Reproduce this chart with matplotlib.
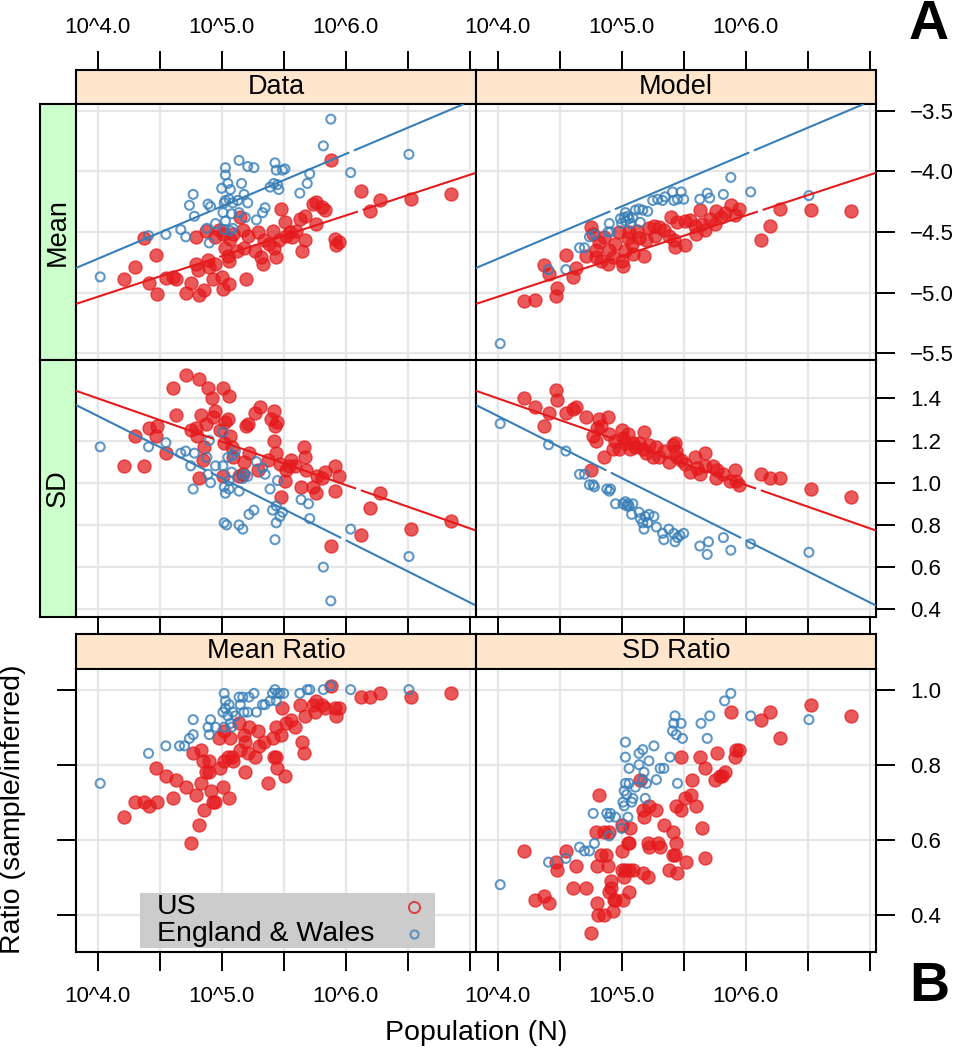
import matplotlib
matplotlib.use('Agg')
import matplotlib.pyplot as plt
from matplotlib.patches import Rectangle
import numpy as np

plt.rcParams['font.family'] = ['Liberation Sans', 'DejaVu Sans']

RED = '#E41A1C'
BLUE = '#377EB8'
GRID = '#E6E6E6'
PEACH = '#FFE5CC'
GREEN = '#CCFFCC'

#-- DATA --  (x = log10 of population)

x_ticks = [4.0, 4.5, 5.0, 5.5, 6.0, 6.5, 7.0]
x_tick_labels = ['10^4.0', '', '10^5.0', '', '10^6.0', '', '']

mean_ticks = [-3.5, -4.0, -4.5, -5.0, -5.5]
mean_tick_labels = ['\u22123.5', '\u22124.0', '\u22124.5', '\u22125.0', '\u22125.5']
sd_ticks = [1.4, 1.2, 1.0, 0.8, 0.6, 0.4]
sd_tick_labels = ['1.4', '1.2', '1.0', '0.8', '0.6', '0.4']
ratio_ticks = [1.0, 0.8, 0.6, 0.4]
ratio_tick_labels = ['1.0', '0.8', '0.6', '0.4']

# fitted lines (intercept, slope) against log10 N
mean_fit_us = (-6.374, 0.335)
mean_fit_ew = (-6.449, 0.432)
sd_fit_us = (2.221, -0.2053)
sd_fit_ew = (2.495, -0.2946)

data_mean_us = [(4.21, -4.89), (4.30, -4.79), (4.37, -4.55), (4.41, -4.92), (4.47, -4.69), (4.48, -5.01),
                (4.55, -4.88), (4.61, -4.87), (4.63, -4.89), (4.71, -5.00), (4.75, -4.92), (4.79, -4.54),
                (4.79, -4.76), (4.81, -4.81), (4.82, -5.02), (4.86, -4.98), (4.87, -4.49), (4.89, -4.73),
                (4.90, -4.79), (4.93, -4.89), (4.95, -4.76), (4.98, -4.48), (5.01, -4.52), (5.01, -4.97),
                (5.03, -4.63), (5.05, -4.70), (5.06, -4.74), (5.06, -4.93), (5.00, -4.87), (5.07, -4.56),
                (5.15, -4.38), (5.17, -4.48), (5.18, -4.63), (5.21, -4.53), (5.20, -4.89), (5.27, -4.66),
                (5.29, -4.50), (5.32, -4.71), (5.34, -4.57), (5.41, -4.49), (5.42, -4.63), (5.44, -4.71),
                (5.46, -4.57), (5.48, -4.31), (5.51, -4.42), (5.55, -4.50), (5.57, -4.54), (5.60, -4.49),
                (5.63, -4.39), (5.67, -4.37), (5.65, -4.66), (5.67, -4.57), (5.76, -4.43), (5.74, -4.27),
                (5.76, -4.25), (5.81, -4.29), (5.83, -4.32), (5.88, -3.91), (5.91, -4.56), (5.92, -4.61),
                (5.95, -4.58), (6.12, -4.16), (6.20, -4.33), (6.28, -4.24), (6.53, -4.23), (6.85, -4.19),
                (5.38, -4.60), (5.09, -4.52), (5.12, -4.66), (4.95, -4.54), (5.33, -4.76), (5.52, -4.53)]

data_mean_ew = [(4.02, -4.87), (4.41, -4.53), (4.55, -4.52), (4.67, -4.48), (4.71, -4.54), (4.77, -4.19),
                (4.74, -4.28), (4.78, -4.37), (4.89, -4.27), (4.91, -4.29), (4.88, -4.47), (4.90, -4.59),
                (4.95, -4.43), (5.00, -4.14), (5.03, -3.97), (5.03, -4.03), (5.05, -4.10), (5.07, -4.15),
                (5.02, -4.26), (5.03, -4.24), (5.06, -4.23), (5.09, -4.26), (5.01, -4.34), (5.08, -4.35),
                (5.03, -4.41), (5.07, -4.49), (5.14, -3.91), (5.21, -3.96), (5.26, -3.97), (5.16, -4.10),
                (5.18, -4.19), (5.13, -4.24), (5.21, -4.26), (5.14, -4.34), (5.19, -4.38), (5.28, -4.40),
                (5.33, -4.34), (5.35, -4.30), (5.39, -4.13), (5.43, -3.93), (5.44, -3.99), (5.45, -4.11),
                (5.46, -4.15), (5.49, -3.99), (5.51, -3.98), (5.42, -4.10), (5.63, -4.18), (5.69, -4.10),
                (5.71, -4.02), (5.82, -3.79), (5.88, -3.57), (6.04, -4.01), (6.51, -3.86), (5.02, -4.48),
                (5.09, -4.47)]

model_mean_us = [(4.21, -5.07), (4.30, -5.06), (4.37, -4.77), (4.41, -4.85), (4.47, -5.03), (4.48, -4.96),
                 (4.55, -4.69), (4.61, -4.87), (4.63, -4.80), (4.71, -4.70), (4.75, -4.46), (4.79, -4.65),
                 (4.79, -4.71), (4.82, -4.58), (4.83, -4.74), (4.86, -4.54), (4.89, -4.76), (4.90, -4.65),
                 (4.93, -4.71), (4.95, -4.60), (5.00, -4.74), (5.01, -4.78), (5.03, -4.66), (5.05, -4.55),
                 (5.06, -4.50), (5.08, -4.60), (5.12, -4.49), (5.14, -4.55), (5.18, -4.70), (5.20, -4.57),
                 (5.22, -4.47), (5.26, -4.45), (5.30, -4.46), (5.34, -4.48), (5.38, -4.53), (5.40, -4.38),
                 (5.42, -4.57), (5.43, -4.62), (5.45, -4.42), (5.51, -4.61), (5.51, -4.41), (5.55, -4.40),
                 (5.59, -4.45), (5.63, -4.32), (5.65, -4.43), (5.67, -4.48), (5.71, -4.39), (5.75, -4.43),
                 (5.76, -4.33), (5.80, -4.38), (5.83, -4.34), (5.88, -4.28), (5.91, -4.36), (5.95, -4.31),
                 (6.12, -4.57), (6.20, -4.45), (6.28, -4.31), (6.53, -4.32), (6.85, -4.33), (4.77, -4.52),
                 (4.98, -4.50), (5.09, -4.68), (5.27, -4.53), (5.60, -4.52)]

model_mean_ew = [(4.02, -5.42), (4.41, -4.81), (4.55, -4.81), (4.66, -4.63), (4.70, -4.63), (4.74, -4.54),
                 (4.78, -4.52), (4.89, -4.50), (4.90, -4.43), (4.91, -4.50), (5.00, -4.43), (5.02, -4.38),
                 (5.03, -4.34), (5.05, -4.37), (5.06, -4.39), (5.03, -4.41), (5.09, -4.38), (5.14, -4.31),
                 (5.15, -4.42), (5.17, -4.32), (5.21, -4.33), (5.25, -4.24), (5.29, -4.23), (5.33, -4.24),
                 (5.35, -4.21), (5.41, -4.17), (5.42, -4.24), (5.45, -4.23), (5.48, -4.17), (5.50, -4.23),
                 (5.63, -4.23), (5.69, -4.18), (5.71, -4.22), (5.82, -4.19), (5.88, -4.05), (6.04, -4.17),
                 (6.51, -4.20), (4.99, -4.39), (5.07, -4.43), (5.11, -4.32)]

data_sd_us = [(4.21, 1.08), (4.30, 1.22), (4.37, 1.08), (4.41, 1.26), (4.47, 1.22), (4.48, 1.27),
              (4.55, 1.14), (4.61, 1.45), (4.63, 1.32), (4.71, 1.51), (4.75, 1.25), (4.79, 1.26),
              (4.80, 1.22), (4.82, 1.49), (4.82, 1.02), (4.83, 1.32), (4.86, 1.17), (4.87, 1.28),
              (4.89, 1.45), (4.92, 1.40), (4.93, 1.31), (4.95, 1.34), (4.85, 1.11), (5.01, 1.45),
              (5.06, 1.41), (5.03, 1.29), (5.05, 1.30), (4.99, 1.25), (5.02, 1.19), (5.07, 1.22),
              (5.08, 1.17), (5.09, 1.12), (5.01, 1.03), (5.14, 1.03), (5.18, 1.10), (5.20, 1.27),
              (5.21, 1.28), (5.22, 1.14), (5.27, 1.33), (5.31, 1.36), (5.29, 1.06), (5.37, 1.11),
              (5.40, 1.30), (5.42, 1.20), (5.42, 1.34), (5.43, 1.27), (5.45, 1.29), (5.44, 1.14),
              (5.47, 1.09), (5.48, 0.93), (5.51, 1.01), (5.52, 1.06), (5.56, 1.11), (5.59, 1.08),
              (5.64, 0.98), (5.66, 1.17), (5.67, 1.12), (5.68, 1.06), (5.74, 0.98), (5.76, 0.95),
              (5.77, 1.03), (5.81, 1.02), (5.83, 1.05), (5.91, 1.08), (5.91, 0.96), (5.95, 1.03),
              (5.88, 0.70), (6.12, 0.75), (6.20, 0.88), (6.28, 0.95), (6.53, 0.78), (6.85, 0.82),
              (5.17, 1.04), (5.54, 1.08)]

data_sd_ew = [(4.02, 1.17), (4.41, 1.17), (4.55, 1.19), (4.67, 1.14), (4.71, 1.15), (4.75, 1.08),
              (4.77, 0.97), (4.78, 1.14), (4.88, 1.12), (4.90, 1.20), (4.89, 1.04), (4.91, 1.00),
              (4.95, 1.08), (5.01, 1.24), (5.01, 1.08), (5.02, 0.98), (5.03, 0.95), (5.02, 0.81),
              (5.04, 0.80), (5.06, 1.01), (5.06, 0.97), (5.05, 1.12), (5.09, 1.13), (5.11, 1.15),
              (5.14, 0.96), (5.14, 0.80), (5.17, 0.78), (5.18, 1.04), (5.21, 1.03), (5.22, 0.85),
              (5.26, 0.87), (5.28, 1.10), (5.33, 1.07), (5.35, 1.04), (5.39, 0.97), (5.41, 0.87),
              (5.43, 0.73), (5.44, 0.89), (5.44, 0.81), (5.45, 1.01), (5.47, 0.84), (5.49, 0.86),
              (5.64, 0.92), (5.70, 0.90), (5.71, 0.83), (5.82, 0.60), (5.88, 0.44), (6.04, 0.78),
              (6.51, 0.65), (5.08, 1.05), (5.17, 1.02)]

model_sd_us = [(4.21, 1.40), (4.30, 1.36), (4.37, 1.27), (4.41, 1.33), (4.47, 1.44), (4.48, 1.39),
               (4.55, 1.33), (4.61, 1.35), (4.63, 1.36), (4.71, 1.31), (4.75, 1.06), (4.79, 1.20),
               (4.80, 1.26), (4.82, 1.30), (4.83, 1.27), (4.86, 1.12), (4.89, 1.31), (4.90, 1.23),
               (4.93, 1.16), (4.95, 1.20), (5.00, 1.25), (5.01, 1.21), (5.03, 1.19), (5.05, 1.23),
               (5.07, 1.16), (5.09, 1.19), (5.14, 1.19), (5.17, 1.16), (5.18, 1.24), (5.20, 1.14),
               (5.22, 1.18), (5.28, 1.17), (5.30, 1.12), (5.34, 1.15), (5.38, 1.10), (5.41, 1.18),
               (5.43, 1.19), (5.45, 1.12), (5.48, 1.11), (5.51, 1.09), (5.55, 1.05), (5.59, 1.12),
               (5.61, 1.07), (5.63, 1.04), (5.67, 1.14), (5.67, 1.08), (5.74, 1.08), (5.76, 1.02),
               (5.77, 1.06), (5.82, 1.04), (5.87, 1.01), (5.91, 1.06), (5.92, 1.01), (5.95, 0.99),
               (6.12, 1.04), (6.20, 1.02), (6.28, 1.02), (6.53, 0.97), (6.85, 0.93), (4.77, 1.22),
               (4.98, 1.16), (5.11, 1.17), (5.25, 1.12), (5.44, 1.15)]

model_sd_ew = [(4.02, 1.28), (4.41, 1.18), (4.55, 1.15), (4.66, 1.04), (4.70, 1.04), (4.74, 0.99),
               (4.77, 0.99), (4.78, 0.98), (4.88, 0.97), (4.90, 0.96), (4.91, 0.97), (4.95, 0.90),
               (5.01, 0.90), (5.03, 0.91), (5.05, 0.90), (5.06, 0.89), (5.08, 0.85), (5.09, 0.90),
               (5.14, 0.86), (5.15, 0.83), (5.17, 0.81), (5.18, 0.78), (5.21, 0.81), (5.22, 0.85),
               (5.26, 0.84), (5.28, 0.79), (5.33, 0.76), (5.34, 0.73), (5.38, 0.78), (5.42, 0.76),
               (5.43, 0.72), (5.45, 0.74), (5.47, 0.75), (5.50, 0.76), (5.63, 0.70), (5.70, 0.72),
               (5.69, 0.66), (5.82, 0.74), (5.88, 0.68), (6.04, 0.71), (6.51, 0.67), (5.04, 0.89),
               (5.19, 0.84)]

mean_ratio_us = [(4.21, 0.66), (4.30, 0.70), (4.37, 0.70), (4.41, 0.69), (4.48, 0.70), (4.47, 0.79),
                 (4.55, 0.77), (4.61, 0.71), (4.63, 0.76), (4.71, 0.74), (4.75, 0.59), (4.77, 0.83),
                 (4.79, 0.72), (4.82, 0.64), (4.83, 0.84), (4.83, 0.75), (4.86, 0.68), (4.85, 0.81),
                 (4.87, 0.78), (4.90, 0.78), (4.91, 0.73), (4.93, 0.70), (4.95, 0.70), (5.01, 0.74),
                 (5.06, 0.71), (4.99, 0.79), (5.02, 0.81), (5.05, 0.82), (5.08, 0.82), (5.09, 0.81),
                 (4.98, 0.87), (5.07, 0.87), (5.02, 0.89), (5.14, 0.91), (5.15, 0.84), (5.18, 0.88),
                 (5.19, 0.86), (5.19, 0.78), (5.21, 0.83), (5.22, 0.90), (5.27, 0.82), (5.29, 0.89),
                 (5.30, 0.85), (5.34, 0.86), (5.37, 0.75), (5.41, 0.87), (5.42, 0.82), (5.44, 0.82),
                 (5.45, 0.79), (5.44, 0.90), (5.48, 0.88), (5.49, 0.95), (5.51, 0.77), (5.52, 0.91),
                 (5.56, 0.92), (5.59, 0.90), (5.63, 0.96), (5.65, 0.86), (5.66, 0.83), (5.67, 0.93),
                 (5.74, 0.96), (5.76, 0.97), (5.81, 0.96), (5.83, 0.95), (5.91, 0.95), (5.92, 0.93),
                 (5.95, 0.95), (5.88, 1.01), (6.12, 0.98), (6.20, 0.98), (6.28, 0.99), (6.53, 0.98),
                 (6.85, 0.99), (5.75, 0.94), (4.90, 0.81)]

mean_ratio_ew = [(4.02, 0.75), (4.41, 0.83), (4.55, 0.85), (4.66, 0.85), (4.70, 0.85), (4.74, 0.87),
                 (4.77, 0.88), (4.77, 0.92), (4.89, 0.90), (4.90, 0.88), (4.91, 0.92), (4.95, 0.90),
                 (5.02, 0.99), (5.03, 0.97), (5.01, 0.94), (5.03, 0.95), (5.06, 0.96), (5.05, 0.93),
                 (5.07, 0.91), (5.02, 0.90), (5.09, 0.94), (5.11, 0.93), (5.14, 0.98), (5.17, 0.98),
                 (5.15, 0.96), (5.18, 0.94), (5.21, 0.94), (5.22, 0.98), (5.26, 0.99), (5.28, 0.94),
                 (5.33, 0.96), (5.35, 0.96), (5.39, 0.97), (5.41, 0.99), (5.43, 1.00), (5.45, 0.99),
                 (5.47, 0.99), (5.50, 0.99), (5.44, 0.97), (5.63, 0.99), (5.69, 1.00), (5.71, 1.00),
                 (5.82, 1.00), (5.88, 1.01), (6.04, 1.00), (6.51, 1.00), (5.08, 0.90)]

sd_ratio_us = [(4.21, 0.57), (4.30, 0.44), (4.37, 0.45), (4.41, 0.43), (4.47, 0.54), (4.48, 0.52),
               (4.55, 0.57), (4.61, 0.47), (4.63, 0.53), (4.71, 0.47), (4.75, 0.35), (4.79, 0.62),
               (4.80, 0.53), (4.80, 0.43), (4.82, 0.72), (4.83, 0.56), (4.86, 0.62), (4.87, 0.56),
               (4.81, 0.40), (4.86, 0.40), (4.89, 0.53), (4.90, 0.46), (4.90, 0.62), (4.91, 0.47),
               (4.93, 0.41), (4.94, 0.44), (4.95, 0.44), (5.00, 0.57), (5.00, 0.52), (5.01, 0.44),
               (5.02, 0.50), (5.03, 0.52), (5.05, 0.59), (5.06, 0.46), (5.07, 0.63), (5.06, 0.52),
               (5.00, 0.64), (5.09, 0.52), (5.15, 0.76), (5.17, 0.68), (5.18, 0.66), (5.17, 0.51),
               (5.21, 0.50), (5.21, 0.59), (5.22, 0.69), (5.22, 0.58), (5.28, 0.68), (5.29, 0.59),
               (5.31, 0.58), (5.34, 0.64), (5.38, 0.52), (5.41, 0.62), (5.41, 0.56), (5.43, 0.56),
               (5.44, 0.59), (5.45, 0.51), (5.44, 0.69), (5.48, 0.68), (5.48, 0.82), (5.51, 0.71),
               (5.52, 0.54), (5.56, 0.72), (5.57, 0.76), (5.60, 0.69), (5.63, 0.82), (5.65, 0.63),
               (5.67, 0.79), (5.67, 0.55), (5.75, 0.76), (5.77, 0.83), (5.79, 0.77), (5.81, 0.77),
               (5.83, 0.78), (5.88, 0.94), (5.91, 0.82), (5.92, 0.84), (5.95, 0.84), (6.12, 0.92),
               (6.20, 0.94), (6.28, 0.87), (6.53, 0.96), (6.85, 0.93), (5.06, 0.59), (4.91, 0.49)]

sd_ratio_ew = [(4.02, 0.48), (4.41, 0.54), (4.55, 0.55), (4.66, 0.58), (4.70, 0.57), (4.74, 0.57),
               (4.78, 0.59), (4.77, 0.67), (4.88, 0.67), (4.90, 0.66), (4.90, 0.61), (4.91, 0.67),
               (4.95, 0.66), (5.00, 0.63), (5.01, 0.70), (5.02, 0.69), (5.03, 0.75), (5.04, 0.72),
               (5.05, 0.66), (5.03, 0.82), (5.03, 0.86), (5.06, 0.79), (5.06, 0.75), (5.08, 0.70),
               (5.09, 0.71), (5.11, 0.74), (5.14, 0.80), (5.14, 0.83), (5.17, 0.84), (5.18, 0.78),
               (5.19, 0.71), (5.20, 0.75), (5.22, 0.81), (5.26, 0.85), (5.28, 0.76), (5.31, 0.79),
               (5.34, 0.79), (5.39, 0.82), (5.41, 0.89), (5.42, 0.91), (5.43, 0.93), (5.44, 0.88),
               (5.48, 0.91), (5.49, 0.87), (5.45, 0.75), (5.64, 0.91), (5.69, 0.87), (5.71, 0.93),
               (5.83, 0.97), (5.88, 0.99), (6.04, 0.93), (6.51, 0.92), (5.02, 0.73), (5.17, 0.76)]

#-- LAYOUT (pixel boxes on a 956 x 1050 canvas) --

W, H = 956.0, 1050.0
XLIM = (3.825, 7.051)
MEAN_LIM = (-5.555, -3.445)
SD_LIM = (0.3635, 1.5816)
RATIO_LIM = (0.3005, 1.055)
TICK_LEN = 13.7
FS_TICK = 16
FS_STRIP = 19.5
FS_LAB = 20.5


def rect(x0, y0, x1, y1):
    return [x0 / W, 1 - y1 / H, (x1 - x0) / W, (y1 - y0) / H]


fig = plt.figure(figsize=(9.56, 10.5), dpi=100)


def frame(ax):
    for s in ax.spines.values():
        s.set_linewidth(1.5)
        s.set_color('black')
    ax.tick_params(which='both', direction='out', length=TICK_LEN, width=1.4,
                   labelsize=FS_TICK, colors='black',
                   left=False, right=False, top=False, bottom=False,
                   labelleft=False, labelright=False, labeltop=False, labelbottom=False)


def strip(box, label, color, rotate=False):
    ax = fig.add_axes(rect(*box))
    ax.set_facecolor(color)
    frame(ax)
    ax.set_xticks([])
    ax.set_yticks([])
    ax.text(0.5, 0.5, label, transform=ax.transAxes, ha='center', va='center',
            fontsize=FS_STRIP, rotation=90 if rotate else 0)
    return ax


def panel(box, ylim, yticks, ylabels, us, ew, fit_us=None, fit_ew=None):
    ax = fig.add_axes(rect(*box))
    frame(ax)
    ax.set_xlim(XLIM)
    ax.set_ylim(ylim)
    ax.set_xticks(x_ticks)
    ax.set_xticklabels(x_tick_labels)
    ax.set_yticks(yticks)
    ax.set_yticklabels(ylabels)
    ax.grid(True, color=GRID, lw=1.6)
    ax.set_axisbelow(True)
    us = np.array(us)
    ew = np.array(ew)
    ax.scatter(us[:, 0], us[:, 1], s=88, facecolor=RED, edgecolor=RED, lw=1.0,
               alpha=0.72, zorder=3)
    ax.scatter(ew[:, 0], ew[:, 1], s=42, facecolor='none', edgecolor=BLUE, lw=1.5,
               alpha=0.8, zorder=4)
    if fit_us is not None:
        ax.axline((0, fit_us[0]), slope=fit_us[1], color=RED, lw=1.5, zorder=5,
                  dashes=(70, 2.4))
        ax.axline((0, fit_ew[0]), slope=fit_ew[1], color=BLUE, lw=1.5, zorder=5,
                  dashes=(70, 2.4))
    return ax


cols = [(76, 476), (476, 876)]

#-- PLOT A --

for (x0, x1), name in zip(cols, ['Data', 'Model']):
    s = strip((x0, 70, x1, 104), name, PEACH)
    s.set_xlim(XLIM)
    s.set_xticks(x_ticks)
    s.set_xticklabels(x_tick_labels)
    s.tick_params(top=True, labeltop=True, pad=9)

strip((40, 104, 76, 360), 'Mean', GREEN, rotate=True)
strip((40, 360, 76, 617), 'SD', GREEN, rotate=True)

a = panel((76, 104, 476, 360), MEAN_LIM, mean_ticks, mean_tick_labels,
          data_mean_us, data_mean_ew, mean_fit_us, mean_fit_ew)
b = panel((476, 104, 876, 360), MEAN_LIM, mean_ticks, mean_tick_labels,
          model_mean_us, model_mean_ew, mean_fit_us, mean_fit_ew)
b.tick_params(right=True, labelright=True, pad=11)

c = panel((76, 360, 476, 617), SD_LIM, sd_ticks, sd_tick_labels,
          data_sd_us, data_sd_ew, sd_fit_us, sd_fit_ew)
c.tick_params(axis='x', bottom=True, length=16)
d = panel((476, 360, 876, 617), SD_LIM, sd_ticks, sd_tick_labels,
          model_sd_us, model_sd_ew, sd_fit_us, sd_fit_ew)
d.tick_params(axis='x', bottom=True, length=16)
d.tick_params(axis='y', right=True, labelright=True, pad=11)

#-- PLOT B --

strip((76, 634, 476, 669), 'Mean Ratio', PEACH)
strip((476, 634, 876, 669), 'SD Ratio', PEACH)

e = panel((76, 669, 476, 952), RATIO_LIM, ratio_ticks, ratio_tick_labels,
          mean_ratio_us, mean_ratio_ew)
e.tick_params(axis='y', left=True)
e.tick_params(axis='x', bottom=True, labelbottom=True, pad=11)
f = panel((476, 669, 876, 952), RATIO_LIM, ratio_ticks, ratio_tick_labels,
          sd_ratio_us, sd_ratio_ew)
f.tick_params(axis='y', right=True, labelright=True, pad=11)
f.tick_params(axis='x', bottom=True, labelbottom=True, pad=11)

# legend box inside the Mean Ratio panel
e.add_patch(Rectangle((0.16, 0.014), 0.7375, 0.195, transform=e.transAxes,
                      facecolor='#CCCCCC', edgecolor='none', zorder=6))
e.text(0.2025, 0.159, 'US', transform=e.transAxes, ha='left', va='center',
       fontsize=FS_LAB, zorder=7)
e.text(0.2025, 0.062, 'England & Wales', transform=e.transAxes, ha='left', va='center',
       fontsize=FS_LAB, zorder=7)
e.plot([0.845], [0.159], transform=e.transAxes, marker='o', ms=8.0, mfc='none',
       mec=RED, mew=1.4, alpha=0.8, zorder=7, clip_on=False)
e.plot([0.845], [0.062], transform=e.transAxes, marker='o', ms=5.8, mfc='none',
       mec=BLUE, mew=1.4, alpha=0.8, zorder=7, clip_on=False)

fig.text(476 / W, 1 - 1033 / H, 'Population (N)', ha='center', va='center', fontsize=FS_LAB)
fig.text(13 / W, 1 - 809 / H, 'Ratio (sample/inferred)', ha='center', va='center',
         rotation=90, fontsize=FS_LAB)

fig.text(929 / W, 1 - 25 / H, 'A', ha='center', va='center', fontsize=40, fontweight='bold')
fig.text(929 / W, 1 - 987 / H, 'B', ha='center', va='center', fontsize=40, fontweight='bold')

fig.savefig('out.png', dpi=100)
